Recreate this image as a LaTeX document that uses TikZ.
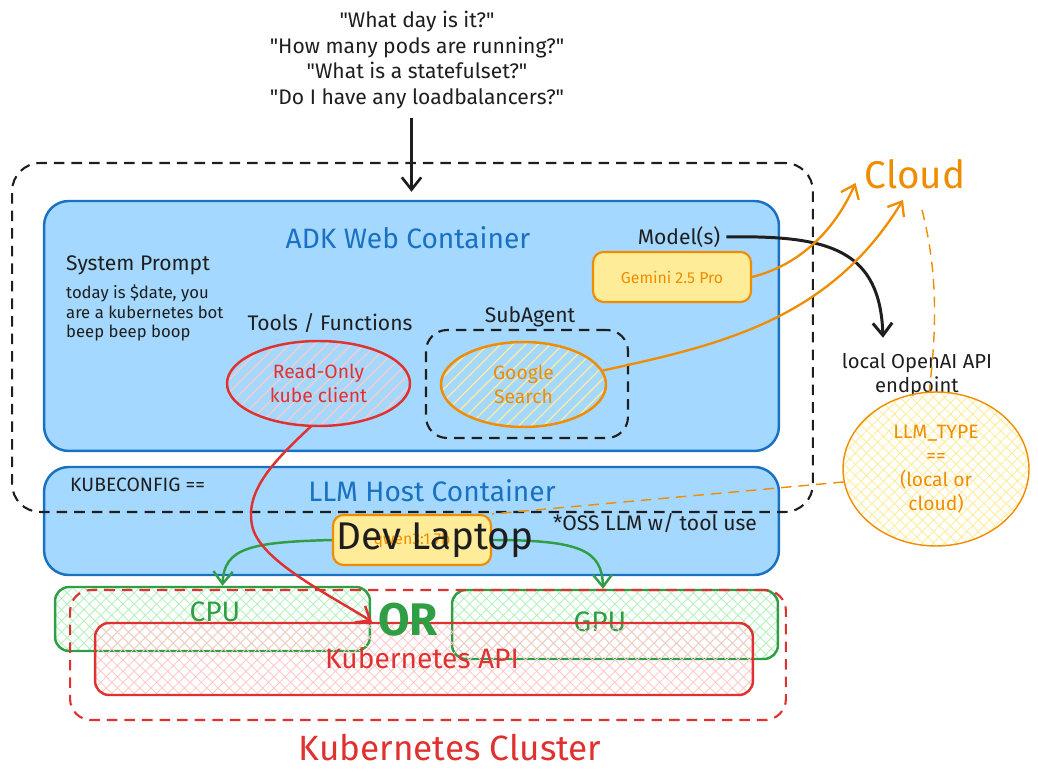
\documentclass[tikz,border=0pt]{standalone}
\usepackage{fontspec}
\setmainfont{Fira Sans}
\usepackage{tikz}
\usetikzlibrary{arrows.meta,patterns.meta,shapes.geometric}
\definecolor{ink}{HTML}{1E1E1E}
\definecolor{bluefill}{HTML}{A5D8FF}
\definecolor{blueline}{HTML}{1971C2}
\definecolor{orng}{HTML}{F08C00}
\definecolor{yellowfill}{HTML}{FFEC99}
\definecolor{redline}{HTML}{E03131}
\definecolor{redhatch}{HTML}{FFC9C9}
\definecolor{greenline}{HTML}{2F9E44}
\definecolor{greenhatch}{HTML}{B2F2BB}
\tikzset{
  container/.style={draw=blueline, fill=bluefill, line width=1.4pt, rounded corners=14pt, inner sep=0pt},
  dashbox/.style={draw=ink, line width=1.2pt, dash pattern=on 6pt off 4pt, rounded corners=16pt, inner sep=0pt},
  pill/.style={draw=orng, fill=yellowfill, line width=1.2pt, rounded corners=6pt, inner sep=0pt, minimum width=3.16cm, minimum height=1cm},
  crosshatch/.style={pattern={Hatch[angle=45,distance=4.5pt,line width=0.5pt]}, pattern color=#1},
  arr/.style={-{Straight Barb[length=7pt,width=11pt]}, line width=1.5pt},
  txt/.style={text=ink, font=\fontsize{12}{14.5}\selectfont},
  title/.style={text=blueline, font=\fontsize{16}{19}\selectfont},
}
\newcommand{\qm}{\textquotedbl}

\begin{document}
\begin{tikzpicture}[x=0.02cm, y=-0.02cm]
\useasboundingbox (0,0) rectangle (1038,783);
\node[txt, align=center] (questions) at (417,60) {\qm What day is it?\qm\\\qm How many pods are running?\qm\\\qm What is a statefulset?\qm\\\qm Do I have any loadbalancers?\qm};

\node[container, minimum width=14.7cm, minimum height=5cm] (adk) at (411.5,326) {};
\node[container, minimum width=14.7cm, minimum height=2.16cm] (llmhost) at (411.5,521) {};
\node[dashbox, minimum width=16.02cm, minimum height=6.98cm] (outer) at (412.5,337.5) {};
\draw[arr, ink, shorten <=2pt] (questions.south -| adk.north) -- ([yshift=0.16cm]adk.north);

\node[title] (adktitle) at (408,238) {ADK Web Container};
\node[txt, anchor=west] (sysprompt) at (60,265) {System Prompt};
\node[text=ink, font=\fontsize{9.5}{11.3}\selectfont, align=left, anchor=west] (prompttext) at (60,313) {today is \$date, you\\are a kubernetes bot\\beep beep boop};
\node[txt] (toolslbl) at (330,323) {Tools / Functions};
\node[ellipse, draw=redline, line width=1.4pt, pattern={Lines[angle=45,distance=5pt,line width=0.7pt]}, pattern color=redhatch, minimum width=3.66cm, minimum height=1.7cm, inner sep=0pt, text=redline, align=center, font=\fontsize{11}{13.5}\selectfont] (readonly) at (318.5,383.5) {Read-Only\\kube client};
\node[txt] (subagentlbl) at (530,317) {SubAgent};
\node[dashbox, rounded corners=12pt, minimum width=4.04cm, minimum height=2.16cm] (subagent) at (527,384) {};
\node[ellipse, draw=orng, line width=1.4pt, pattern={Lines[angle=45,distance=5pt,line width=0.7pt]}, pattern color=yellowfill, minimum width=3.3cm, minimum height=1.7cm, inner sep=0pt, text=orng, align=center, font=\fontsize{11}{13.5}\selectfont] (google) at (523.5,384.5) {Google\\Search};
\node[txt] (model) at (679,237) {Model(s)};
\node[pill, text=orng, font=\fontsize{9}{11}\selectfont] (gemini) at (672,277) {Gemini 2.5 Pro};

\node[text=orng, font=\fontsize{22}{26}\selectfont] (cloud) at (915,174) {Cloud};
\node[text=ink, align=center, font=\fontsize{11.5}{14}\selectfont] (openai) at (917,375) {local OpenAI API\\endpoint};
\node[ellipse, draw=orng, line width=0.8pt, crosshatch=yellowfill, minimum width=3.72cm, minimum height=3.08cm, inner sep=0pt, text=orng, align=center, font=\fontsize{11}{13.6}\selectfont] (llmtype) at (936,469) {LLM\_TYPE\\==\\(local or\\cloud)};

\node[text=ink, anchor=west, font=\fontsize{11}{13}\selectfont] (kubeconfig) at (64,485) {KUBECONFIG ==};
\node[title] (llmtitle) at (432,491) {LLM Host Container};
\node[txt] (osslbl) at (655,523) {*OSS LLM w/ tool use};

\node[draw=greenline, line width=1.4pt, rounded corners=8pt, crosshatch=greenhatch, minimum width=6.3cm, minimum height=1.28cm, inner sep=0pt] (cpu) at (212.5,619) {};
\node[text=greenline, font=\fontsize{16}{19}\selectfont] (cputxt) at (215,612) {CPU};
\node[draw=greenline, line width=1.4pt, rounded corners=8pt, crosshatch=greenhatch, minimum width=6.52cm, minimum height=1.38cm, inner sep=0pt] (gpu) at (615,624.5) {};
\node[text=greenline, font=\fontsize{16}{19}\selectfont] (gputxt) at (600,622) {GPU};
\node[draw=redline, line width=1.2pt, dash pattern=on 6pt off 4pt, rounded corners=12pt, minimum width=14.32cm, minimum height=2.6cm, inner sep=0pt] (cluster) at (428,655) {};
\node[draw=redline, line width=1.4pt, rounded corners=8pt, crosshatch=redhatch, minimum width=13.16cm, minimum height=1.44cm, inner sep=0pt] (kubeapi) at (424,659) {};
\node[text=redline, font=\fontsize{16}{19}\selectfont] (kubeapitxt) at (422,658) {Kubernetes API};
\node[text=greenline, font=\bfseries\fontsize{26}{30}\selectfont] (ortxt) at (408,620) {OR};
\node[text=redline, font=\fontsize{20}{24}\selectfont] (clustertxt) at (450,748) {Kubernetes Cluster};

\draw[arr, greenline, line width=1.4pt] (333,540) .. controls (250,542) and (224,548) .. ([xshift=0.2cm]cpu.north);
\draw[arr, greenline, line width=1.4pt] (491,540) .. controls (580,540) and (602,550) .. ([xshift=-0.24cm]gpu.north);
\node[pill, text=orng, font=\fontsize{9}{11}\selectfont] (qwen) at (412,540) {qwen3:1.7b};
\node[text=ink, font=\fontsize{22}{26}\selectfont] (devlaptop) at (435,540) {Dev Laptop};

\draw[arr, ink, line width=1.7pt, shorten >=0pt] (model.east) .. controls (830,235) and (880,250) .. ([xshift=-0.68cm,yshift=0.18cm]openai.north);
\draw[arr, orng, line width=1.3pt] (gemini.east) .. controls (800,265) and (835,230) .. ([xshift=-0.06cm,yshift=-0.18cm]cloud.west);
\draw[arr, orng, line width=1.3pt] (google.10) .. controls (720,345) and (830,320) .. ([xshift=-0.24cm,yshift=-0.1cm]cloud.south);
\draw[orng, line width=0.8pt, dash pattern=on 6pt off 4pt] ([xshift=0.14cm,yshift=-0.3cm]cloud.south) .. controls (940,280) and (935,340) .. (llmtype.95);
\draw[orng, line width=0.8pt, dash pattern=on 6pt off 4pt] (llmtype.188) -- (qwen.north east);
\draw[arr, redline, line width=1.4pt] (readonly.260) .. controls (275,460) and (245,490) .. (252,525) .. controls (258,560) and (330,595) .. ([xshift=-1.04cm]kubeapi.north);
\end{tikzpicture}
\end{document}
